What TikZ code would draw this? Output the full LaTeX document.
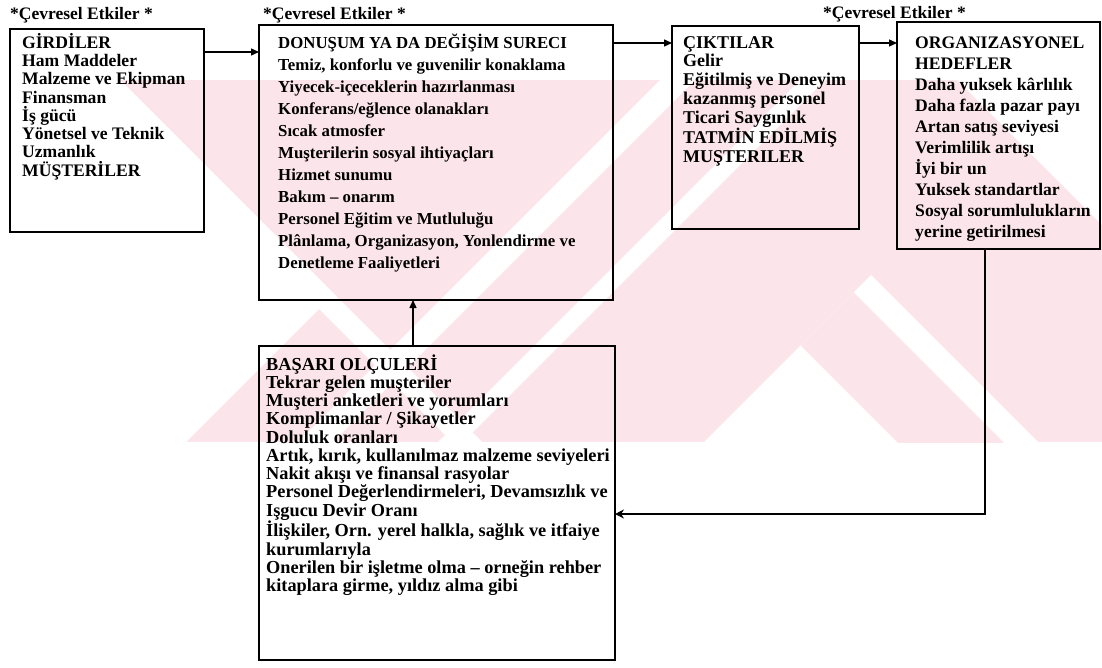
\documentclass[tikz,border=0pt]{standalone}
\usepackage{fontspec}
\setmainfont{Liberation Serif}
\usetikzlibrary{arrows.meta}
\definecolor{wm}{RGB}{252,229,234}
\tikzset{
 box/.style={draw, line width=1.4pt, anchor=north west, inner sep=0pt, outer sep=0pt},
 txt/.style={anchor=north west, inner sep=0pt, align=left},
 ttl/.style={anchor=base west, inner sep=0pt, font=\fontsize{17.5}{20}\selectfont\bfseries},
 arr/.style={line width=1.4pt, -{Triangle[length=8pt,width=7pt]}},
 fb/.style={line width=1.4pt, -{Stealth[length=9pt,width=9pt]}},
}
\newcommand{\fl}{\rule{0pt}{16pt}}
\begin{document}
\begin{tikzpicture}[x=1pt,y=-1pt]
\useasboundingbox (0,0) rectangle (1102,668);
% faint watermark
\begin{scope}
\clip (0,80) rectangle (1102,442);
\fill[wm] (0,80) rectangle (1102,442);
\fill[white] (0,70) -- (110,70) -- (334,294) -- (176,452) -- (0,452) -- cycle;
\fill[white] (80,70) -- (110,70) -- (492,452) -- (462,452) -- cycle;
\fill[white] (670,70) -- (705,70) -- (323,452) -- (288,452) -- cycle;
\fill[white] (810,70) -- (835,70) -- (453,452) -- (428,452) -- cycle;
\fill[white] (871,275) -- (694,452) -- (1048,452) -- cycle;
\fill[wm] (853.5,292.5) -- (800.5,345.5) -- (907,452) -- (1013,452) -- cycle;
\fill[white] (947,70) -- (1110,70) -- (1110,233) -- cycle;
\end{scope}
% titles
\node[ttl] (e1) at (10,20) {*Çevresel Etkiler *};
\node[ttl] (e2) at (263,20) {*Çevresel Etkiler *};
\node[ttl] (e3) at (823,19) {*Çevresel Etkiler *};
% boxes
\node[box, minimum width=194pt, minimum height=203pt] (b1) at (10,29) {};
\node[box, minimum width=354pt, minimum height=275pt] (b2) at (259,25) {};
\node[box, minimum width=187pt, minimum height=203pt] (b3) at (672,26) {};
\node[box, minimum width=203pt, minimum height=227pt] (b4) at (897,22) {};
\node[box, minimum width=356pt, minimum height=314pt] (b5) at (259,346) {};
% texts
\node[txt, font=\fontsize{17.6}{18.3}\selectfont\bfseries] (t1) at (22,32) {\fl GİRDİLER\\Ham Maddeler\\Malzeme ve Ekipman\\Finansman\\İş gücü\\Yönetsel ve Teknik\\Uzmanlık\\MÜŞTERİLER};
\node[txt, font=\fontsize{16.8}{22}\selectfont\bfseries] (t2) at (278,32) {\fl DONUŞUM YA DA DEĞİŞİM SURECI\\Temiz, konforlu ve guvenilir konaklama\\Yiyecek-içeceklerin hazırlanması\\Konferans/eğlence olanakları\\Sıcak atmosfer\\Muşterilerin sosyal ihtiyaçları\\Hizmet sunumu\\Bakım -- onarım\\Personel Eğitim ve Mutluluğu\\Plânlama, Organizasyon, Yonlendirme ve\\Denetleme Faaliyetleri};
\node[txt, font=\fontsize{18}{18.8}\selectfont\bfseries] (t3) at (683,32) {\fl ÇIKTILAR\\Gelir\\Eğitilmiş ve Deneyim\\kazanmış personel\\Ticari Saygınlık\\TATMİN EDİLMİŞ\\MUŞTERILER};
\node[txt, font=\fontsize{17.6}{21}\selectfont\bfseries] (t4) at (915,32) {\fl ORGANIZASYONEL\\HEDEFLER\\Daha yuksek kârlılık\\Daha fazla pazar payı\\Artan satış seviyesi\\Verimlilik artışı\\İyi bir un\\Yuksek standartlar\\Sosyal sorumlulukların\\yerine getirilmesi};
\node[txt, font=\fontsize{18.3}{18.25}\selectfont\bfseries] (t5) at (266,354) {\fl BAŞARI OLÇULERİ\\Tekrar gelen muşteriler\\Muşteri anketleri ve yorumları\\Komplimanlar / Şikayetler\\Doluluk oranları\\Artık, kırık, kullanılmaz malzeme seviyeleri\\Nakit akışı ve finansal rasyolar\\Personel Değerlendirmeleri, Devamsızlık ve\\Işgucu Devir Oranı\\İlişkiler, Orn. yerel halkla, sağlık ve itfaiye\\kurumlarıyla\\Onerilen bir işletme olma -- orneğin rehber\\kitaplara girme, yıldız alma gibi};
% connectors
\coordinate (a1) at ([yshift=-23pt]b1.north east);
\draw[arr] (a1) -- (a1 -| b2.west);
\coordinate (a2) at ([yshift=-18pt]b2.north east);
\draw[arr] (a2) -- (a2 -| b3.west);
\coordinate (a3) at ([yshift=-17pt]b3.north east);
\draw[arr] (a3) -- (a3 -| b4.west);
\coordinate (a4) at ([xshift=-24pt]b5.north);
\draw[arr] (a4) -- (a4 |- b2.south);
\coordinate (a5) at ([xshift=-13.5pt]b4.south);
\coordinate (a6) at ([yshift=-11pt]b5.east);
\draw[fb] (a5) |- (a6);
\end{tikzpicture}
\end{document}
